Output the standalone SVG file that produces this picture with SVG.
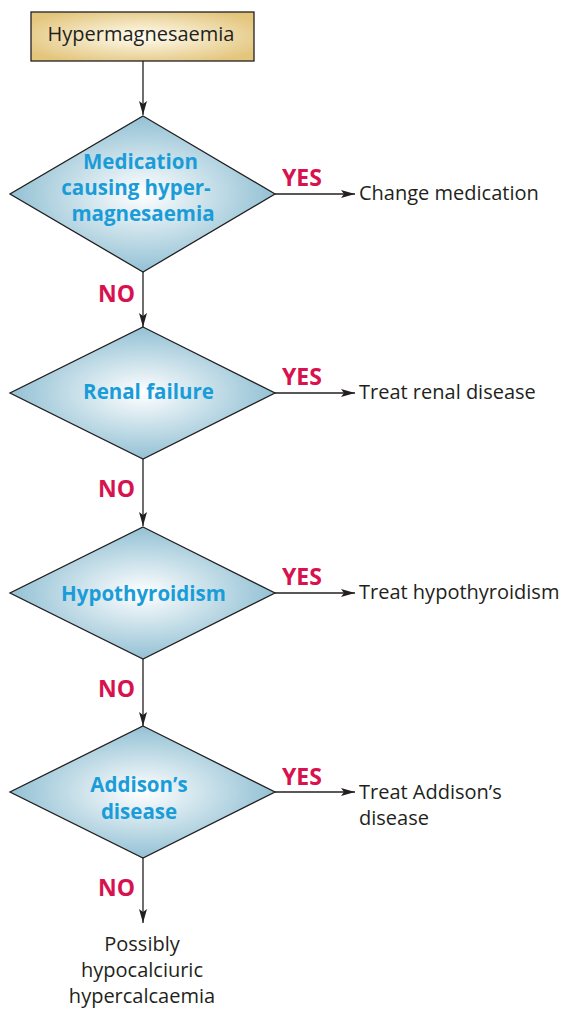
<svg xmlns="http://www.w3.org/2000/svg" width="561" height="1012" viewBox="0 0 561 1012">
<defs>
<radialGradient id="gBox" cx="0.5" cy="0.5" r="0.6">
<stop offset="0" stop-color="#fffdf2"/>
<stop offset="1" stop-color="#e3c57c"/>
</radialGradient>
<radialGradient id="gDia" cx="0.5" cy="0.5" r="0.55">
<stop offset="0" stop-color="#ffffff"/>
<stop offset="1" stop-color="#88bbd0"/>
</radialGradient>
<marker id="ah" viewBox="0 0 14 8" refX="14" refY="4" markerWidth="14" markerHeight="8" markerUnits="userSpaceOnUse" orient="auto">
<path d="M0,0 L14,4 L0,8 L3,4 Z" fill="#231f20"/>
</marker>
<style>
.shape{stroke:#231f20;stroke-width:1.3}
.q{font-family:"Open Sans","Liberation Sans",sans-serif;font-weight:bold;font-size:20.5px;fill:#1a9cd8;text-anchor:middle}
.t{font-family:"Open Sans","Liberation Sans",sans-serif;font-size:20px;fill:#231f20}
.c{text-anchor:middle}
.lab{font-family:"Open Sans","Liberation Sans",sans-serif;font-weight:bold;font-size:23px;fill:#d7124f}
.ln{stroke:#231f20;stroke-width:1.3;fill:none;marker-end:url(#ah)}
</style>
</defs>
<g id="connectors">
<line class="ln" x1="143" y1="61" x2="143" y2="115"/>
<line class="ln" x1="143" y1="272" x2="143" y2="327"/>
<line class="ln" x1="143" y1="459" x2="143" y2="526"/>
<line class="ln" x1="143" y1="659" x2="143" y2="726"/>
<line class="ln" x1="143" y1="858" x2="143" y2="923"/>
<line class="ln" x1="275" y1="194" x2="355" y2="194"/>
<line class="ln" x1="275" y1="393" x2="355" y2="393"/>
<line class="ln" x1="275" y1="593" x2="355" y2="593"/>
<line class="ln" x1="275" y1="792" x2="355" y2="792"/>
<text class="lab" x="98" y="302">NO</text>
<text class="lab" x="98" y="497">NO</text>
<text class="lab" x="98" y="697">NO</text>
<text class="lab" x="98" y="896">NO</text>
<text class="lab" x="282" y="186">YES</text>
<text class="lab" x="282" y="385">YES</text>
<text class="lab" x="282" y="585">YES</text>
<text class="lab" x="282" y="785">YES</text>
</g>
<g id="start">
<rect class="shape" x="31" y="12" width="223" height="49" fill="url(#gBox)"/>
<text class="t c" x="141" y="41">Hypermagnesaemia</text>
</g>
<g id="q1">
<polygon class="shape" points="143,116 275,194 143,272 10,194" fill="url(#gDia)"/>
<text class="q" x="140.5" y="169">Medication</text>
<text class="q" x="136" y="195">causing hyper-</text>
<text class="q" x="143" y="221">magnesaemia</text>
</g>
<g id="q2">
<polygon class="shape" points="143,327 275,393 143,459 10,393" fill="url(#gDia)"/>
<text class="q" x="148.5" y="399">Renal failure</text>
</g>
<g id="q3">
<polygon class="shape" points="143,527 275,593 143,659 10,593" fill="url(#gDia)"/>
<text class="q" x="143.5" y="601">Hypothyroidism</text>
</g>
<g id="q4">
<polygon class="shape" points="143,726 275,792 143,858 10,792" fill="url(#gDia)"/>
<text class="q" x="139" y="792">Addison’s</text>
<text class="q" x="139" y="819">disease</text>
</g>
<g id="r1"><text class="t" x="359" y="200">Change medication</text></g>
<g id="r2"><text class="t" x="359" y="399">Treat renal disease</text></g>
<g id="r3"><text class="t" x="359" y="599">Treat hypothyroidism</text></g>
<g id="r4"><text class="t" x="359" y="799">Treat Addison’s</text><text class="t" x="359" y="825">disease</text></g>
<g id="end">
<text class="t c" x="142" y="951">Possibly</text>
<text class="t c" x="142" y="977">hypocalciuric</text>
<text class="t c" x="142" y="1003">hypercalcaemia</text>
</g>
</svg>
